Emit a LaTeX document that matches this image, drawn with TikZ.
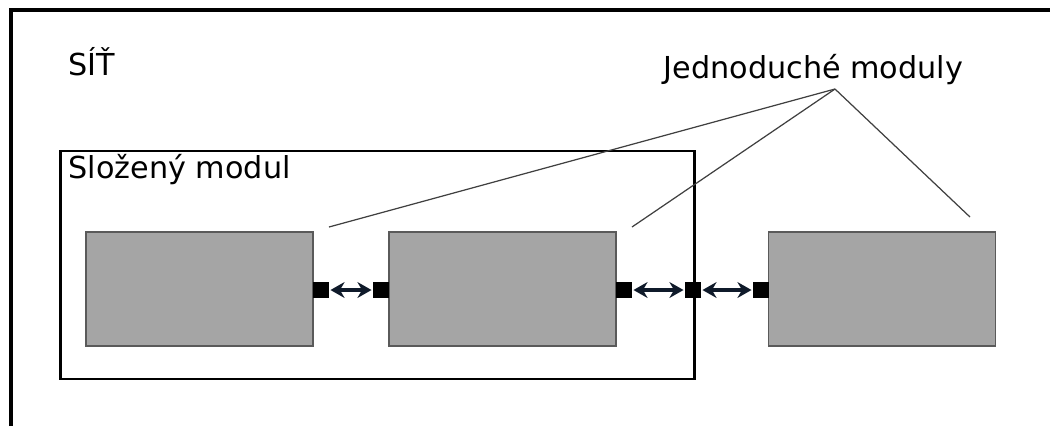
\documentclass[tikz,border=0pt]{standalone}
\usepackage{fontspec}
\setmainfont{DejaVu Sans}
\usetikzlibrary{arrows.meta}
\definecolor{boxfill}{HTML}{A5A5A5}
\definecolor{boxline}{HTML}{5A5A5A}
\definecolor{arrowcol}{HTML}{0F1A2A}
\definecolor{ptrcol}{HTML}{404040}
\tikzset{
  modbox/.style={draw=boxline, line width=0.5pt, fill=boxfill, minimum width=2.27cm, minimum height=1.14cm, inner sep=0pt},
  port/.style={fill=black, draw=black, minimum size=0.14cm, inner sep=0pt},
  link/.style={draw=arrowcol, line width=0.9pt, {Stealth[length=4pt,width=4.5pt]}-{Stealth[length=4pt,width=4.5pt]}, shorten <=0.5pt, shorten >=0.5pt},
  pointer/.style={draw=ptrcol, line width=0.35pt},
  lbl/.style={font=\fontsize{8.6}{10}\selectfont, inner sep=0pt},
}
\begin{document}
\begin{tikzpicture}[x=0.01cm, y=-0.01cm]
\useasboundingbox (0,0) rectangle (1050,426);
% outer frame (only left and top edges visible)
\draw[line width=1pt] (11,426) -- (11,10) -- (1050,10);
% composite module
\node[draw=black, line width=0.8pt, minimum width=6.33cm, minimum height=2.28cm, inner sep=0pt] (comp) at (377.5,265) {};
\node[lbl, anchor=west] (net) at (68,62) {SÍŤ};
\node[lbl, anchor=west] (complbl) at (68,170) {Složený modul};
\node[lbl, anchor=west] (simplbl) at (663,70) {Jednoduché moduly};
% simple modules
\node[modbox] (m1) at (199.5,289) {};
\node[modbox] (m2) at (502.5,289) {};
\node[modbox] (m3) at (882,289) {};
% ports
\node[port] (p1) at (321,290) {};
\node[port] (p2) at (381,290) {};
\node[port] (p3) at (624,290) {};
\node[port] (p4) at (693,290) {};
\node[port] (p5) at (761,290) {};
% links
\draw[link] (p1) -- (p2);
\draw[link] (p3) -- (p4);
\draw[link] (p4) -- (p5);
% pointer lines
\coordinate (apex) at (835,89);
\coordinate (t1) at (329,227);
\coordinate (t2) at (632,227);
\coordinate (t3) at (970,217);
\draw[pointer] (apex) -- (t1);
\draw[pointer] (apex) -- (t2);
\draw[pointer] (apex) -- (t3);
\end{tikzpicture}
\end{document}
